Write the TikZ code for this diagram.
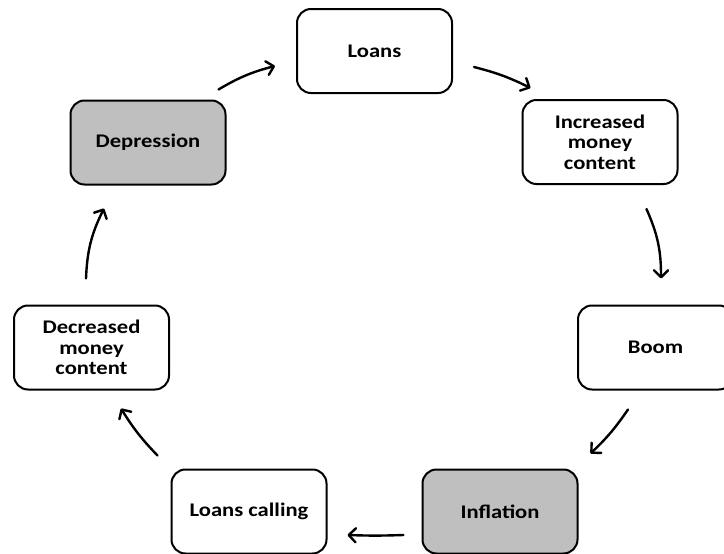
\documentclass[tikz,border=0pt]{standalone}
\usepackage{fontspec}
\setmainfont{Carlito}[FakeStretch=1.17]
\usetikzlibrary{arrows.meta,calc}
\definecolor{boxgray}{RGB}{191,191,191}
\tikzset{
  stage/.style={draw=black, line width=2pt, rounded corners=14pt, minimum width=155pt, minimum height=84pt, align=center, font=\fontsize{19.3}{20.5}\selectfont\bfseries, inner sep=2pt, fill=white},
  grayed/.style={stage, fill=boxgray},
  arr/.style={line width=2.4pt, line cap=round, -{Straight Barb[length=7pt,width=14pt,line cap=round, line join=round]}}
}
\begin{document}
\begin{tikzpicture}[x=1pt,y=-1pt]
\useasboundingbox (0,0) rectangle (724,554);
\node[stage]  (loans) at (374.5,51) {Loans};
\node[stage]  (inc)   at (600,142) {Increased\\money\\content};
\node[stage]  (boom)  at (655.5,347.5) {Boom};
\node[grayed] (infl)  at (500,511.5) {Inflation};
\node[stage]  (lcall) at (249,511.5) {Loans calling};
\node[stage]  (dec)   at (91.5,347.5) {Decreased\\money\\content};
\node[grayed] (dep)   at (148,142.5) {Depression};

\draw[arr] ([shift={(-8,-10)}]dep.north east) to[bend left=8] ([shift={(-21,15)}]loans.west);
\draw[arr] ([shift={(21,16)}]loans.east) to[bend left=6] ([shift={(9,-11)}]inc.north west);
\draw[arr] ([shift={(-32,24)}]inc.south east) to[bend left=12] ([shift={(84,-26)}]boom.north west);
\draw[arr] ([shift={(51,19)}]boom.south west) to[bend left=6] ([shift={(12,-15)}]infl.north east);
\draw[arr] ([shift={(-18,23.5)}]infl.west) to[bend left=2] ([shift={(20,23.5)}]lcall.east);
\draw[arr] ([shift={(-13,-13)}]lcall.north west) to[bend left=6] ([shift={(-49,18)}]dec.south east);
\draw[arr] ([shift={(-5.5,-26)}]dec.north) to[bend left=12] ([shift={(-44,23)}]dep.south);
\end{tikzpicture}
\end{document}
